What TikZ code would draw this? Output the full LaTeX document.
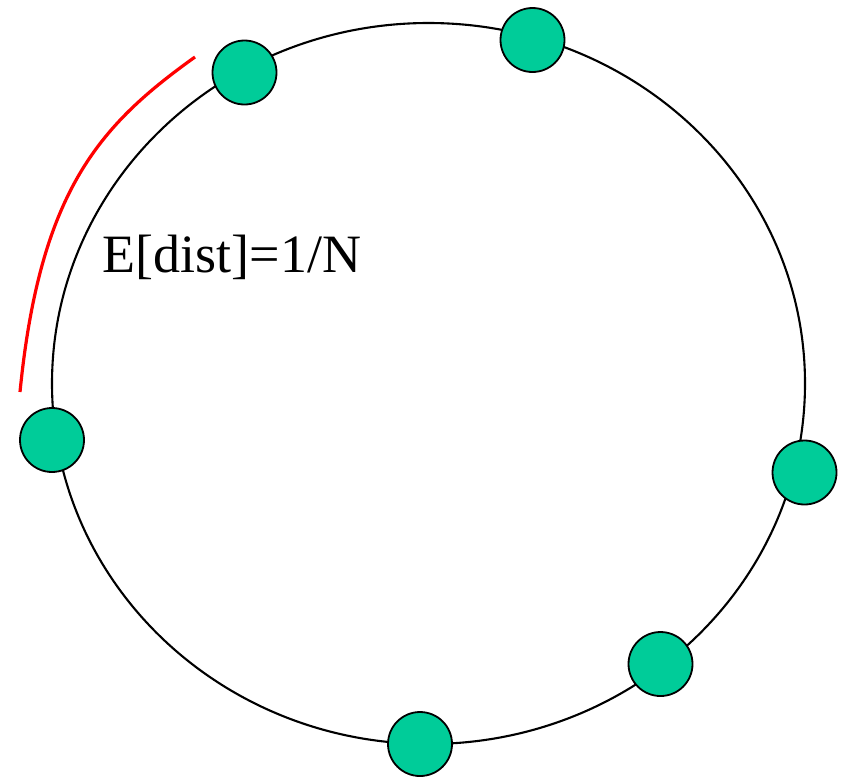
\documentclass[tikz,border=0pt]{standalone}
\usepackage{fontspec}
\setmainfont{Liberation Serif}
\definecolor{nodegreen}{RGB}{0,204,153}
\begin{document}
\begin{tikzpicture}[x=1pt,y=-1pt,
  ringnode/.style={circle,draw=black,line width=1.8pt,fill=nodegreen,minimum size=64pt,inner sep=0pt},
  ring/.style={draw=black,line width=2.1pt},
  distarc/.style={draw=red,line width=3.2pt}]
\useasboundingbox (0,0) rectangle (842,777);
\node[coordinate] (c) at (428.5,383.5) {};
\draw[ring] (c) ellipse [x radius=376.5pt, y radius=360.5pt];
\node[ringnode] (n1) at (244.5,72.5) {};
\node[ringnode] (n2) at (532.5,40) {};
\node[ringnode] (n3) at (52,440) {};
\node[ringnode] (n4) at (804.5,472.5) {};
\node[ringnode] (n5) at (660.5,664) {};
\node[ringnode] (n6) at (420,744) {};
\coordinate (a1) at (195,57);
\coordinate (a2) at (20,392);
\draw[distarc] (a1) .. controls (100,125) and (40,190) .. (a2);
\node[anchor=base west,inner sep=0pt,font=\fontsize{54}{60}\selectfont] (lbl) at (102.5,272) {E[dist]=1/N};
\end{tikzpicture}
\end{document}
